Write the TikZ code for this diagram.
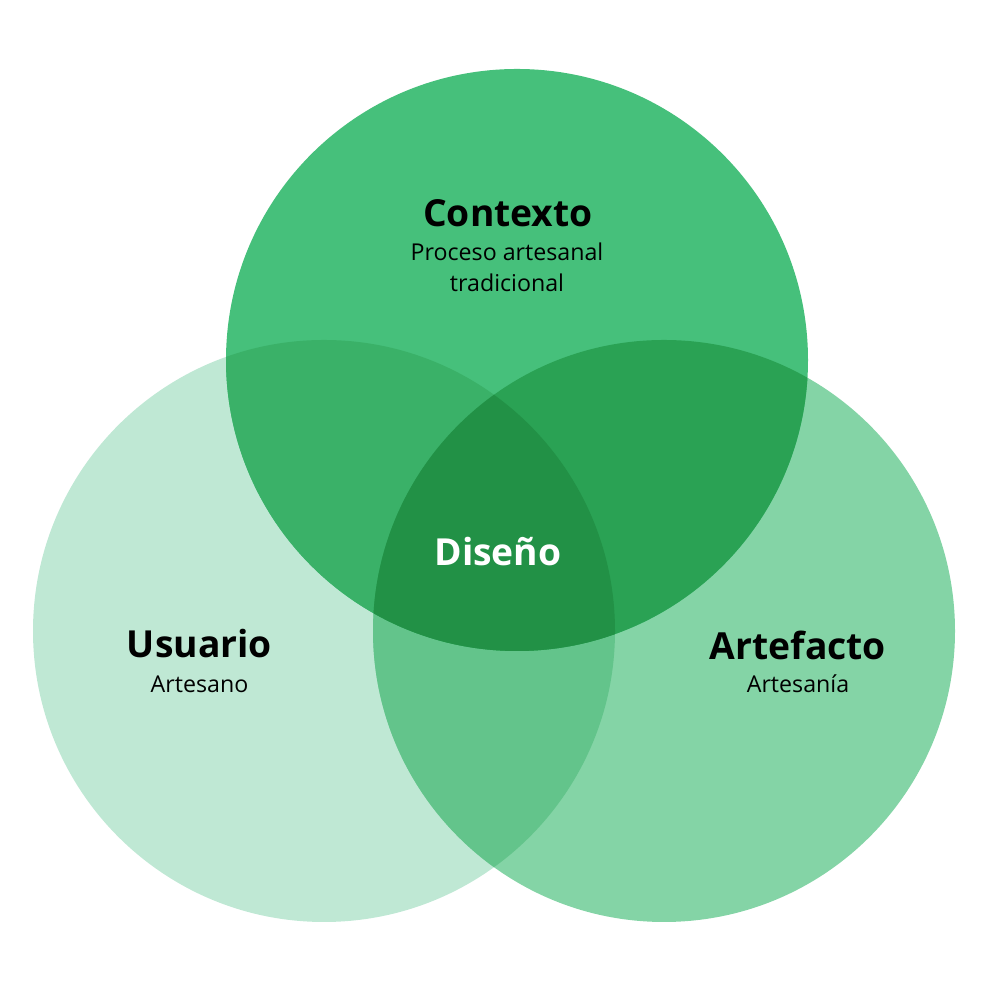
\documentclass[tikz,border=0pt]{standalone}
\usepackage{fontspec}
\setmainfont{Open Sans}
\definecolor{ctxfill}{RGB}{70,192,123}
\definecolor{userfill}{RGB}{191,232,212}
\definecolor{artfill}{RGB}{132,212,166}
\definecolor{cufill}{RGB}{58,177,104}
\definecolor{cafill}{RGB}{42,162,84}
\definecolor{uafill}{RGB}{99,196,139}
\definecolor{allfill}{RGB}{34,145,70}

\begin{document}
\begin{tikzpicture}[scale=1,
  every node/.style={inner sep=0pt,anchor=base},
  titletext/.style={font=\bfseries\fontsize{21.2}{25}\selectfont},
  subtext/.style={font=\fontsize{13.2}{16}\selectfont}]
\useasboundingbox (0,0) rectangle (20,19.64);
\coordinate (Ccenter) at (10.34,12.44);
\coordinate (Ucenter) at (6.48,7.02);
\coordinate (Acenter) at (13.28,7.02);
\def\rad{5.82}

\fill[userfill] (Ucenter) circle (\rad);
\fill[artfill] (Acenter) circle (\rad);
\fill[ctxfill] (Ccenter) circle (\rad);
\begin{scope}
  \clip (Ucenter) circle (\rad);
  \fill[uafill] (Acenter) circle (\rad);
  \fill[cufill] (Ccenter) circle (\rad);
\end{scope}
\begin{scope}
  \clip (Acenter) circle (\rad);
  \fill[cafill] (Ccenter) circle (\rad);
  \clip (Ucenter) circle (\rad);
  \fill[allfill] (Ccenter) circle (\rad);
\end{scope}

\node[titletext] (contexto) at (10.16,15.10) {Contexto};
\node[subtext] (proceso) at (10.14,14.42) {Proceso artesanal};
\node[subtext] (tradicional) at (10.14,13.80) {tradicional};
\node[titletext,white] (diseno) at (9.96,8.32) {Diseño};
\node[titletext] (usuario) at (3.99,6.48) {Usuario};
\node[subtext] (artesano) at (3.99,5.78) {Artesano};
\node[titletext] (artefacto) at (15.96,6.44) {Artefacto};
\node[subtext] (artesania) at (15.96,5.78) {Artesanía};
\end{tikzpicture}
\end{document}
